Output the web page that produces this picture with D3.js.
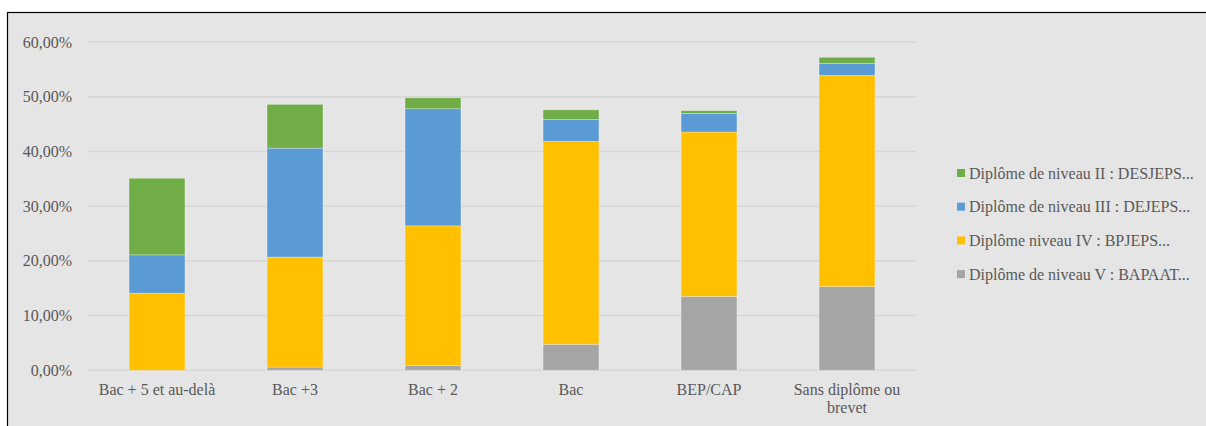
<!DOCTYPE html>
<html>
<head>
<meta charset="utf-8">
<script src="https://cdn.jsdelivr.net/npm/d3@7"></script>
<style>
  html, body { margin: 0; padding: 0; background: #ffffff; }
  svg { display: block; }
  text { font-family: "Liberation Serif", "Times New Roman", serif; fill: #595959; }
</style>
</head>
<body>
<div id="chart"></div>
<script>
// Diploma levels by prior education (stacked shares, in %)
const categories = ["Bac + 5 et au-delà", "Bac +3", "Bac + 2", "Bac", "BEP/CAP", "Sans diplôme ou brevet"];
const niveauV   = [0, 0.6, 0.85, 4.75, 13.5, 15.3];
const niveauIV  = [14.1, 20.1, 25.55, 37.1, 30.05, 38.6];
const niveauIII = [7.0, 19.9, 21.4, 4.0, 3.4, 2.2];
const niveauII  = [14.0, 8.0, 2.0, 1.75, 0.5, 1.1];
const seriesNames = [
  "Diplôme de niveau V : BAPAAT...",
  "Diplôme niveau IV : BPJEPS...",
  "Diplôme de niveau III : DEJEPS...",
  "Diplôme de niveau II : DESJEPS..."
];
const seriesColors = ["#a5a5a5", "#ffc000", "#5b9bd5", "#70ad47"];
const yTicks = [0, 10, 20, 30, 40, 50, 60];

const W = 1206, H = 426;
const plotLeft = 88, plotRight = 916, plotBottom = 370.3, plotTop = 42;
const FS = 16;

const svg = d3.select("#chart").append("svg").attr("width", W).attr("height", H);

// chart area frame
svg.append("rect")
  .attr("x", 7.5).attr("y", 12.5)
  .attr("width", W + 10).attr("height", H + 10)
  .attr("fill", "#e5e5e5").attr("stroke", "#000").attr("stroke-width", 1.2);

const x = d3.scaleBand().domain(categories).range([plotLeft, plotRight]).padding(0);
const y = d3.scaleLinear().domain([0, 60]).range([plotBottom, plotTop]);

// gridlines
svg.append("g").selectAll("line").data(yTicks).join("line")
  .attr("x1", plotLeft).attr("x2", plotRight)
  .attr("y1", d => y(d)).attr("y2", d => y(d))
  .attr("stroke", "#d6d6d6").attr("stroke-width", 1.5);

// y axis labels
const fmt = v => d3.format(".2f")(v).replace(".", ",") + "%";
svg.append("g").selectAll("text").data(yTicks).join("text")
  .attr("x", 72).attr("y", d => y(d)).attr("dy", "0.35em")
  .attr("text-anchor", "end").attr("font-size", FS)
  .text(fmt);

// stacked bars
const rows = categories.map((c, i) => ({
  cat: c, s0: niveauV[i], s1: niveauIV[i], s2: niveauIII[i], s3: niveauII[i]
}));
const stack = d3.stack().keys(["s0", "s1", "s2", "s3"]);
const layers = stack(rows);
const barW = x.bandwidth() * 0.405;

svg.append("g").selectAll("g").data(layers).join("g")
  .attr("fill", (d, i) => seriesColors[i])
  .selectAll("rect").data(d => d).join("rect")
  .attr("x", d => x(d.data.cat) + (x.bandwidth() - barW) / 2)
  .attr("width", barW)
  .attr("y", d => y(d[1]))
  .attr("height", d => Math.max(0, y(d[0]) - y(d[1])))
  .attr("stroke", "rgba(255,255,255,0.35)").attr("stroke-width", 0.8);

// x axis labels with wrapping
const xl = svg.append("g").selectAll("text").data(categories).join("text")
  .attr("x", d => x(d) + x.bandwidth() / 2)
  .attr("y", 395)
  .attr("text-anchor", "middle").attr("font-size", FS);

xl.each(function(d) {
  const t = d3.select(this);
  const words = d.split(" ");
  let line = [];
  let tspan = t.append("tspan").attr("x", t.attr("x")).attr("dy", 0);
  words.forEach(w => {
    line.push(w);
    tspan.text(line.join(" "));
    if (tspan.node().getComputedTextLength() > 130 && line.length > 1) {
      line.pop();
      tspan.text(line.join(" "));
      line = [w];
      tspan = t.append("tspan").attr("x", t.attr("x")).attr("dy", 18).text(w);
    }
  });
});

// legend (top entry is the last series)
const legendOrder = [3, 2, 1, 0];
const lg = svg.append("g").selectAll("g").data(legendOrder).join("g")
  .attr("transform", (d, i) => `translate(957, ${173 + i * 33.7})`);
lg.append("rect").attr("x", 0).attr("y", -4).attr("width", 8).attr("height", 8)
  .attr("fill", d => seriesColors[d]);
lg.append("text").attr("x", 12).attr("y", 0).attr("dy", "0.35em")
  .attr("font-size", FS).text(d => seriesNames[d]);
</script>
</body>
</html>
